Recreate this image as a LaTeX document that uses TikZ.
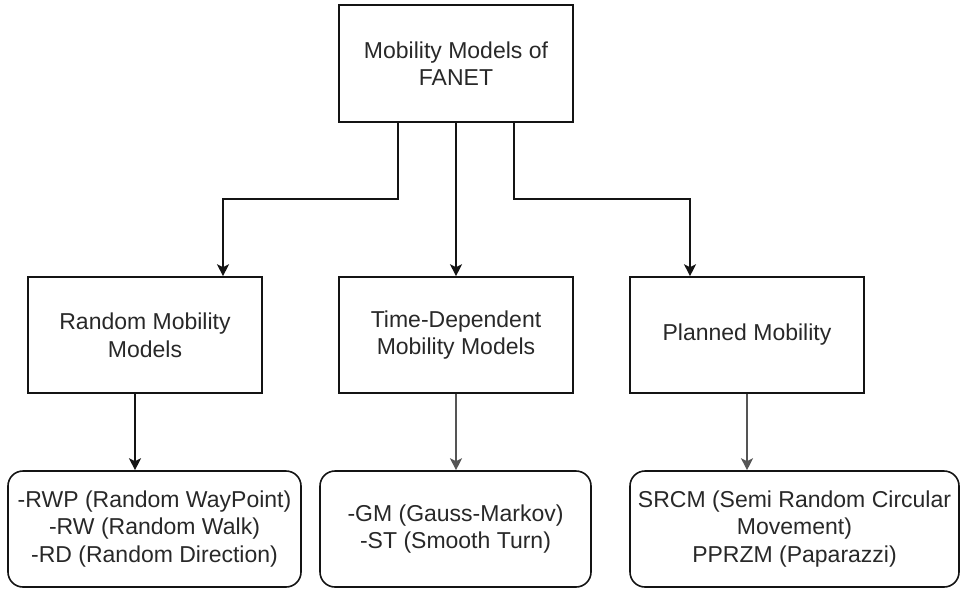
\documentclass[tikz,border=0pt]{standalone}
\usepackage{fontspec}
\setmainfont{Liberation Sans}
\usetikzlibrary{arrows.meta}
\definecolor{inkline}{RGB}{20,20,20}
\definecolor{greyline}{RGB}{85,85,85}
\definecolor{inktext}{RGB}{40,40,40}
\begin{document}
\begin{tikzpicture}[x=1pt,y=-1pt,
  every node/.style={font=\fontsize{23}{27.6}\selectfont, text=inktext, align=center, inner sep=0pt},
  sqbox/.style={draw=inkline, line width=1.6pt, minimum width=234pt, minimum height=116pt},
  rbox/.style={draw=inkline, line width=1.6pt, rounded corners=15pt, minimum height=116pt},
  arr/.style={draw=inkline, line width=1.6pt, -{Stealth[length=12pt,width=12pt,inset=3pt]}},
  garr/.style={arr, draw=greyline}]
  \useasboundingbox (0,0) rectangle (960,589);

  % root
  \node[sqbox, minimum height=117pt] (top) at (456,63.5) {Mobility Models of\\FANET};

  % categories
  \node[sqbox] (rmm) at (145,335) {Random Mobility\\Models};
  \node[sqbox] (tdm) at (456,335) {Time-Dependent\\Mobility Models};
  \node[sqbox] (pm)  at (747,335) {Planned Mobility};

  % model lists
  \node[rbox, minimum width=293pt] (b1) at (154.5,529) {-RWP (Random WayPoint)\\-RW (Random Walk)\\-RD (Random Direction)};
  \node[rbox, minimum width=271pt] (b2) at (455.5,529) {-GM (Gauss-Markov)\\-ST (Smooth Turn)};
  \node[rbox, minimum width=329pt] (b3) at (794.5,529) {SRCM (Semi Random Circular\\Movement)\\PPRZM (Paparazzi)};

  % root to categories
  \draw[arr] ([xshift=-58pt]top.south) -- ++(0,76) -| ([xshift=78pt]rmm.north);
  \draw[arr] (top.south) -- (tdm.north);
  \draw[arr] ([xshift=58pt]top.south) -- ++(0,76) -| ([xshift=-57pt]pm.north);

  % categories to lists
  \draw[arr] ([xshift=-10pt]rmm.south) -- ([xshift=-10pt]rmm.south |- b1.north);
  \draw[garr] (tdm.south) -- (tdm.south |- b2.north);
  \draw[garr] (pm.south) -- (pm.south |- b3.north);
\end{tikzpicture}
\end{document}
